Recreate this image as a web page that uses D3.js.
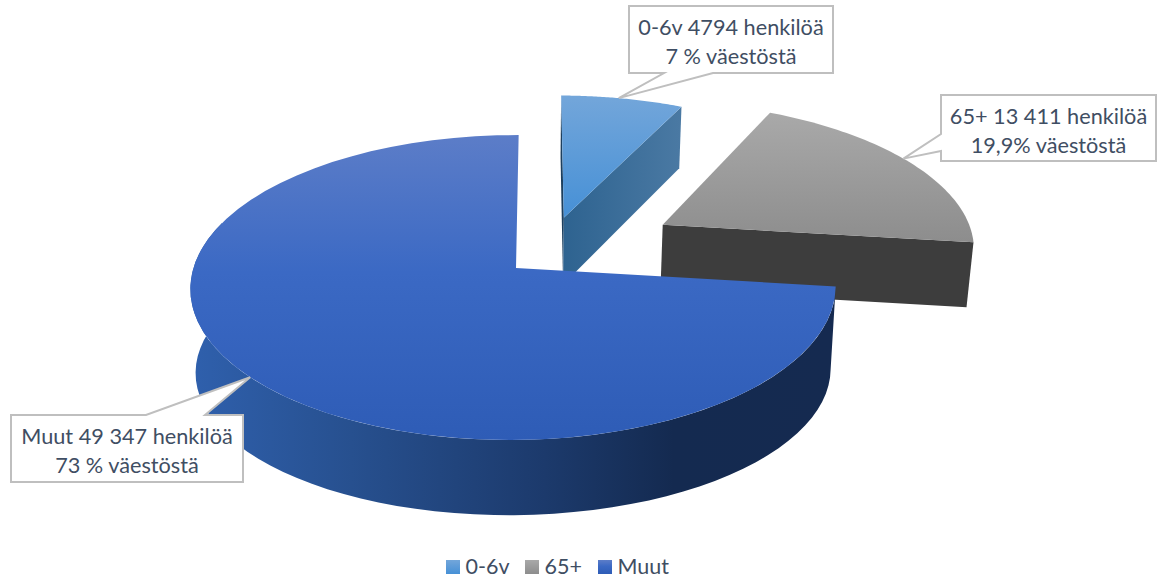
<!DOCTYPE html>
<html>
<head>
<meta charset="utf-8">
<title>Väestö</title>
<script src="https://d3js.org/d3.v7.min.js"></script>
<style>
  html, body {margin: 0; padding: 0; background: #fff;}
  text {font-family: Lato, "Open Sans", sans-serif; fill: #3f4e63;}
</style>
</head>
<body>
<div id="chart"></div>
<script>
var categories = ["0-6v", "65+", "Muut"];
var persons = [4794, 13411, 49347];
var labelFirst = ["0-6v 4794 henkilöä", "65+ 13 411 henkilöä", "Muut 49 347 henkilöä"];
var labelSecond = ["7 % väestöstä", "19,9% väestöstä", "73 % väestöstä"];

var width = 1159, height = 580;

// camera fitted by eye to the 3D pie, slice coords are in pie radii
var cam = {x0: 516, y0: 268, fx: 320, fy: 150, skew: 3, persY: 0.128, persX: 0.008, persZ: 0.016};

// exploded offset of each slice, its height and how much the foot of the wall is squeezed
var explode = [
  {x: 0.153, y: 0.35, wide: 1.015, depth: 70, foot: 1},
  {x: 0.475, y: 0.3, wide: 1.01, depth: 68, foot: 1},
  {x: 0, y: 0, wide: 1, depth: 86, foot: 0.89}
];
var boxes = [
  {x: 629, y: 6, w: 204, h: 67, base: [664, 713], side: "bottom", tipAt: 0.47},
  {x: 941, y: 95, w: 215, h: 66, base: [134, 151], side: "left", tipAt: 0.47},
  {x: 11, y: 415, w: 232, h: 67, base: [146, 205], side: "top", tipAt: 0.5}
];
var legendX = [446, 525, 598];

var svg = d3.select("#chart").append("svg")
    .attr("width", width)
    .attr("height", height);

function project(i, angle, r, t) {
  var e = explode[i];
  var X = e.x + e.wide * r * Math.sin(angle),
      Y = e.y + r * Math.cos(angle);
  var w = 1 + cam.persY * Y + cam.persX * X + cam.persZ * t;
  var fy = cam.fy * (1 - (1 - e.foot) * t);
  return [cam.x0 + (cam.fx * X + cam.skew * Y) / w, cam.y0 - (fy * Y - e.depth * t) / w];
}

function arcPoints(i, a0, a1, t) {
  return d3.range(0, 61).map(function(k) {
    return project(i, a0 + (a1 - a0) * k / 60, 1, t);
  });
}

var line = d3.line();
var defs = svg.append("defs");

function gradient(id, stops, x1, y1, x2, y2) {
  var g = defs.append("linearGradient")
      .attr("id", id)
      .attr("gradientUnits", x1 === undefined ? "objectBoundingBox" : "userSpaceOnUse")
      .attr("x1", x1 === undefined ? 0 : x1).attr("y1", y1 === undefined ? 0 : y1)
      .attr("x2", x2 === undefined ? 0 : x2).attr("y2", y2 === undefined ? 1 : y2);
  stops.forEach(function(s) {
    g.append("stop").attr("offset", s[0]).attr("stop-color", s[1]);
  });
}

var topStops = [
  [[0, "#73a6da"], [1, "#4690d6"]],
  [[0, "#a9a9a9"], [1, "#8d8d8d"]],
  [[0, "#5c7dc8"], [0.45, "#3b69c4"], [1, "#2e5cb6"]]
];
topStops.forEach(function(s, i) { gradient("top" + i, s); });
gradient("wall", [[0, "#2f60ad"], [0.25, "#27508f"], [0.55, "#1c3a6c"], [0.75, "#142a50"], [1, "#152a50"]], 190, 0, 835, 0);
gradient("side0", [[0, "#2e6390"], [1, "#4a79a3"]], 564, 0, 680, 0);

var arcs = d3.pie().sort(null).value(function(d) { return d; })(persons);

function cutFace(i, angle) {
  return line([project(i, angle, 0, 0), project(i, angle, 1, 0), project(i, angle, 1, 1), project(i, angle, 0, 1)]) + "Z";
}

// back slices first, Muut goes over both
arcs.forEach(function(d, i) {
  var g = svg.append("g").attr("class", "slice");

  if (i == 0) {
    // both cut faces show on the small slice
    g.append("path").attr("d", cutFace(i, d.startAngle)).attr("fill", "#1d3f5e");
    g.append("path").attr("d", cutFace(i, d.endAngle)).attr("fill", "url(#side0)");
  }
  if (i == 1) {
    g.append("path").attr("d", cutFace(i, d.endAngle)).attr("fill", "#3d3d3d");
  }
  if (i == 2) {
    // only the front of the rim can be seen, stop it a bit past the left side
    var wallEnd = Math.PI * 1.6;
    var wall = arcPoints(i, d.startAngle, wallEnd, 0)
        .concat(arcPoints(i, d.startAngle, wallEnd, 1).reverse());
    g.append("path")
      .attr("d", line(wall) + "Z")
      .attr("fill", "url(#wall)");
  }

  var face = [project(i, 0, 0, 0)].concat(arcPoints(i, d.startAngle, d.endAngle, 0));
  g.append("path")
    .attr("d", line(face) + "Z")
    .attr("fill", "url(#top" + i + ")");
});

// callouts, the tip sits on the rim of the slice
arcs.forEach(function(d, i) {
  var b = boxes[i];
  var tip = project(i, d.startAngle + (d.endAngle - d.startAngle) * b.tipAt, 1, 0);
  var x1 = b.x + b.w, y1 = b.y + b.h, pts;
  if (b.side == "bottom") {
    pts = [[b.x, b.y], [x1, b.y], [x1, y1], [b.base[1], y1], tip, [b.base[0], y1], [b.x, y1]];
  } else if (b.side == "left") {
    pts = [[b.x, b.y], [x1, b.y], [x1, y1], [b.x, y1], [b.x, b.base[1]], tip, [b.x, b.base[0]]];
  } else {
    pts = [[b.x, b.y], [b.base[0], b.y], tip, [b.base[1], b.y], [x1, b.y], [x1, y1], [b.x, y1]];
  }
  var g = svg.append("g").attr("class", "callout");
  g.append("path")
    .attr("d", line(pts) + "Z")
    .attr("fill", "#fff")
    .attr("stroke", "#bfbfbf")
    .attr("stroke-width", 2);
  g.append("text")
    .attr("x", b.x + b.w / 2)
    .attr("y", b.y + 29)
    .attr("text-anchor", "middle")
    .style("font-size", "21.7px")
    .text(labelFirst[i]);
  g.append("text")
    .attr("x", b.x + b.w / 2)
    .attr("y", b.y + 58)
    .attr("text-anchor", "middle")
    .style("font-size", "21.7px")
    .text(labelSecond[i]);
});

var legend = svg.selectAll(".legend")
    .data(categories)
    .enter().append("g")
    .attr("class", "legend")
    .attr("transform", function(d, i) { return "translate(" + legendX[i] + ",560)"; });
legend.append("rect")
    .attr("width", 14)
    .attr("height", 14)
    .attr("fill", function(d, i) { return "url(#top" + i + ")"; });
legend.append("text")
    .attr("x", 19.5)
    .attr("y", 14)
    .style("font-size", "21.5px")
    .text(function(d) { return d; });
</script>
</body>
</html>
